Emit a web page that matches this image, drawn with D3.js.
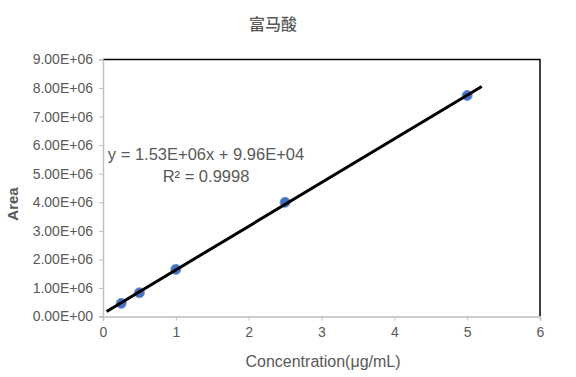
<!DOCTYPE html>
<html><head><meta charset="utf-8">
<script src="https://cdn.jsdelivr.net/npm/d3@7"></script>
<style>body{margin:0;background:#fff}svg{display:block}</style>
</head><body><svg id="c" width="576" height="377"></svg>
<script>
const title = "富马酸";
const xLabel = "Concentration(μg/mL)";
const yLabel = "Area";
const concentrations = [0.25, 0.5, 1, 2.5, 5];
const areas = [4.6e5, 8.3e5, 1.65e6, 4.0e6, 7.74e6];
const slope = 1.53e6, intercept = 9.96e4;
const trendRange = [0.05, 5.2];
const xTicks = [0, 1, 2, 3, 4, 5, 6];
const yTicks = [0, 1e6, 2e6, 3e6, 4e6, 5e6, 6e6, 7e6, 8e6, 9e6];
const eqLines = ["y = 1.53E+06x + 9.96E+04", "R² = 0.9998"];

const svg = d3.select("#c");
const L = 103, R = 540, T = 59.5, B = 316.5;
const x = d3.scaleLinear().domain([0, 6]).range([L, R]);
const y = d3.scaleLinear().domain([0, 9e6]).range([B, T]);
const font = "'Liberation Sans', Arial, sans-serif";
const grey = "#595959";

function fmt(v){
  if (v === 0) return "0.00E+00";
  const e = Math.floor(Math.log10(v));
  const m = v / Math.pow(10, e);
  return m.toFixed(2) + "E+" + String(e).padStart(2, "0");
}

svg.append("path").attr("d", `M${L},${T}H${R}V${B}`).attr("fill","none").attr("stroke","#000").attr("stroke-width",1.5);

const yAxis = d3.axisLeft(y).tickValues(yTicks).tickFormat(fmt).tickSize(4).tickPadding(6);
const gy = svg.append("g").attr("transform", `translate(${L},0)`).call(yAxis);
gy.select(".domain").attr("stroke", "#bfbfbf").attr("stroke-width", 1.5);
gy.selectAll(".tick line").attr("stroke", "#bfbfbf");
gy.selectAll(".tick text").attr("fill", grey).style("font-family", font).style("font-size", "14px");

const xAxis = d3.axisBottom(x).tickValues(xTicks).tickFormat(d3.format("d")).tickSize(4).tickPadding(7);
const gx = svg.append("g").attr("transform", `translate(0,${B})`).call(xAxis);
gx.select(".domain").attr("stroke", "#bfbfbf").attr("stroke-width", 1.5);
gx.selectAll(".tick line").attr("stroke", "#bfbfbf");
gx.selectAll(".tick text").attr("fill", grey).style("font-family", font).style("font-size", "14px");

svg.append("g").selectAll("circle").data(concentrations).join("circle")
  .attr("cx", d => x(d)).attr("cy", (d,i) => y(areas[i])).attr("r", 5)
  .attr("fill", "#4472c4").attr("stroke", "#7090d0").attr("stroke-width", 1);

svg.append("line")
  .attr("x1", x(trendRange[0])).attr("y1", y(slope*trendRange[0]+intercept))
  .attr("x2", x(trendRange[1])).attr("y2", y(slope*trendRange[1]+intercept))
  .attr("stroke", "#000").attr("stroke-width", 3);

svg.append("text").attr("x", 206).attr("y", 160).attr("text-anchor","middle")
  .attr("fill", grey).style("font-family", font).style("font-size","16.5px").text(eqLines[0]);
svg.append("text").attr("x", 206).attr("y", 181.5).attr("text-anchor","middle")
  .attr("fill", grey).style("font-family", font).style("font-size","16.5px").text(eqLines[1]);

svg.append("text").attr("x", 273).attr("y", 30).attr("text-anchor","middle")
  .attr("fill", grey).style("font-family", "'Noto Sans CJK SC', sans-serif").style("font-size","16px").style("font-weight","500").text(title);

svg.append("text").attr("x", 323).attr("y", 367).attr("text-anchor","middle")
  .attr("fill", grey).style("font-family", font).style("font-size","16px").text(xLabel);

svg.append("text").attr("transform", "translate(18,204) rotate(-90)").attr("text-anchor","middle")
  .attr("fill", grey).style("font-family", font).style("font-size","15px").style("font-weight","bold").text(yLabel);
</script></body></html>
